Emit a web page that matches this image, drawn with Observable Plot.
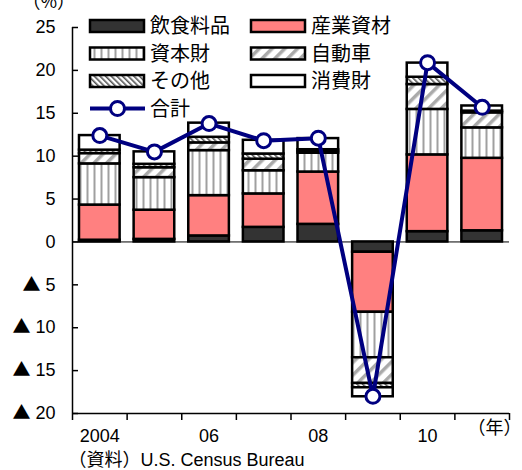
<!DOCTYPE html>
<html><head><meta charset="utf-8">
<script src="https://cdn.jsdelivr.net/npm/d3@7"></script>
<script src="https://cdn.jsdelivr.net/npm/@observablehq/plot@0.6"></script>
<style>body{margin:0;background:#fff} #chart{width:522px;height:470px}</style>
</head><body><div id="chart"></div>
<script>
const years = [2004, 2005, 2006, 2007, 2008, 2009, 2010, 2011];
const categories = ["飲食料品", "産業資材", "資本財", "自動車", "その他", "消費財"];
const food  = [0.2, 0.3, 0.7, 1.7, 2.05, -1.2, 1.2, 1.3];
const ind   = [4.1, 3.4, 4.7, 3.9, 6.1, -7.0, 8.95, 8.45];
const cap   = [4.8, 3.8, 5.25, 2.7, 2.2, -5.3, 5.3, 3.55];
const auto  = [1.2, 1.15, 0.9, 1.35, 0.2, -3.0, 2.9, 1.75];
const other = [0.4, 0.4, 0.65, 0.6, 0.2, -0.5, 0.85, 0.2];
const cons  = [1.7, 1.45, 1.65, 1.6, 1.3, -1.05, 1.65, 0.6];
const total = [12.4, 10.5, 13.8, 11.8, 12.1, -18.0, 20.9, 15.7];
const totalLabel = "合計";
const yTicks = [-20, -15, -10, -5, 0, 5, 10, 15, 20, 25];
const xTickYears = [2004, 2006, 2008, 2010];
const xTickLabels = ["2004", "06", "08", "10"];
const yUnit = "（%）";
const xUnit = "（年）";
const source = "（資料）U.S. Census Bureau";

const series = [food, ind, cap, auto, other, cons];
const data = years.flatMap((yr, i) => categories.map((c, k) => ({year: yr, cat: c, value: series[k][i]})));
const totals = years.map((yr, i) => ({year: yr, total: total[i]}));

const fills = ["#333333", "#ff8080", "url(#pat-cap)", "url(#pat-auto)", "url(#pat-other)", "#ffffff"];
const navy = "#000080";
const font = "'Liberation Sans','Noto Sans CJK JP',sans-serif";
const cjk = "'Noto Sans CJK JP',sans-serif";

const plot = Plot.plot({
  width: 522, height: 470,
  marginTop: 27, marginLeft: 72, marginRight: 13, marginBottom: 57,
  style: {fontFamily: font, fontSize: "18px", color: "#000", background: "#fff"},
  x: {domain: [2004, 2012], axis: null, label: null},
  y: {domain: [-20, 25], axis: null, label: null},
  color: {domain: categories, range: fills},
  marks: [
    Plot.ruleY([0], {stroke: "#000", strokeWidth: 1}),
    Plot.rectY(data, {x: "year", interval: 1, y: "value", fill: "cat", stroke: "#000", strokeWidth: 2.5, insetLeft: 7, insetRight: 7}),
    Plot.ruleX([2004], {stroke: "#000", strokeWidth: 1.5}),
    Plot.ruleY([-20], {stroke: "#000", strokeWidth: 1.5}),
    Plot.axisY(yTicks, {tickSize: -6, tickPadding: 23, strokeWidth: 1.5, fontSize: 18, label: null,
      tickFormat: v => v < 0 ? `▲ ${-v}` : `${v}`}),
    Plot.axisX(d3.range(2004, 2013), {tickSize: 7, strokeWidth: 1.5, tickFormat: () => "", label: null}),
    Plot.text(xTickYears, {x: d => d + 0.5, text: (d, i) => xTickLabels[i], frameAnchor: "bottom", dy: 28, fontSize: 18}),
    Plot.text([xUnit], {frameAnchor: "bottom-right", dx: 12, dy: 20, textAnchor: "end", fontSize: 18, fontFamily: cjk}),
    Plot.text([source], {frameAnchor: "bottom-left", dx: -4, dy: 52, textAnchor: "start", fontSize: 18}),
    Plot.text([yUnit], {frameAnchor: "top-left", dx: -50, dy: -32, textAnchor: "start", fontSize: 18, fontFamily: cjk}),
    Plot.line(totals, {x: d => d.year + 0.5, y: "total", stroke: navy, strokeWidth: 4}),
    Plot.dot(totals, {x: d => d.year + 0.5, y: "total", r: 7, fill: "#fff", stroke: navy, strokeWidth: 3})
  ]
});

const svg = d3.select(plot);
// full-width triangle glyph for negative tick labels
svg.selectAll("text").each(function() {
  const t = this.textContent;
  if (t.startsWith("▲ ")) {
    const el = d3.select(this);
    el.text(null);
    el.append("tspan").attr("font-family", cjk).text("▲");
    el.append("tspan").text(" " + t.slice(2));
  }
});

const defs = svg.insert("defs", ":first-child");
const pc = defs.append("pattern").attr("id", "pat-cap").attr("patternUnits", "userSpaceOnUse").attr("width", 7).attr("height", 10);
pc.append("rect").attr("width", 7).attr("height", 10).attr("fill", "#fff");
pc.append("rect").attr("x", 2.5).attr("width", 2).attr("height", 10).attr("fill", "#a0a0a0");
const pa = defs.append("pattern").attr("id", "pat-auto").attr("patternUnits", "userSpaceOnUse").attr("width", 9).attr("height", 10).attr("patternTransform", "rotate(45)");
pa.append("rect").attr("width", 9).attr("height", 10).attr("fill", "#fff");
pa.append("rect").attr("x", 0).attr("width", 3.5).attr("height", 10).attr("fill", "#aaaaaa");
const po = defs.append("pattern").attr("id", "pat-other").attr("patternUnits", "userSpaceOnUse").attr("width", 4).attr("height", 10).attr("patternTransform", "rotate(-45)");
po.append("rect").attr("width", 4).attr("height", 10).attr("fill", "#fff");
po.append("rect").attr("x", 0).attr("width", 1.6).attr("height", 10).attr("fill", "#555");

const lg = svg.append("g").attr("font-size", 20).attr("font-family", cjk).attr("text-anchor", "start");
categories.forEach((c, k) => {
  const col = k % 2, row = Math.floor(k / 2);
  const sx = col ? 251 : 90, ty = 26 + row * 27.5;
  lg.append("rect").attr("x", sx).attr("y", ty - 6).attr("width", 54).attr("height", 12)
    .attr("fill", fills[k]).attr("stroke", "#000").attr("stroke-width", 2.5);
  lg.append("text").attr("x", sx + 60).attr("y", ty).attr("dy", "0.35em").text(c);
});
const ly = 26 + 3 * 27.5;
lg.append("line").attr("x1", 90).attr("x2", 145).attr("y1", ly).attr("y2", ly).attr("stroke", navy).attr("stroke-width", 4);
lg.append("circle").attr("cx", 117.5).attr("cy", ly).attr("r", 7).attr("fill", "#fff").attr("stroke", navy).attr("stroke-width", 3);
lg.append("text").attr("x", 150).attr("y", ly).attr("dy", "0.35em").text(totalLabel);

document.getElementById("chart").appendChild(plot);
</script>
</body></html>
